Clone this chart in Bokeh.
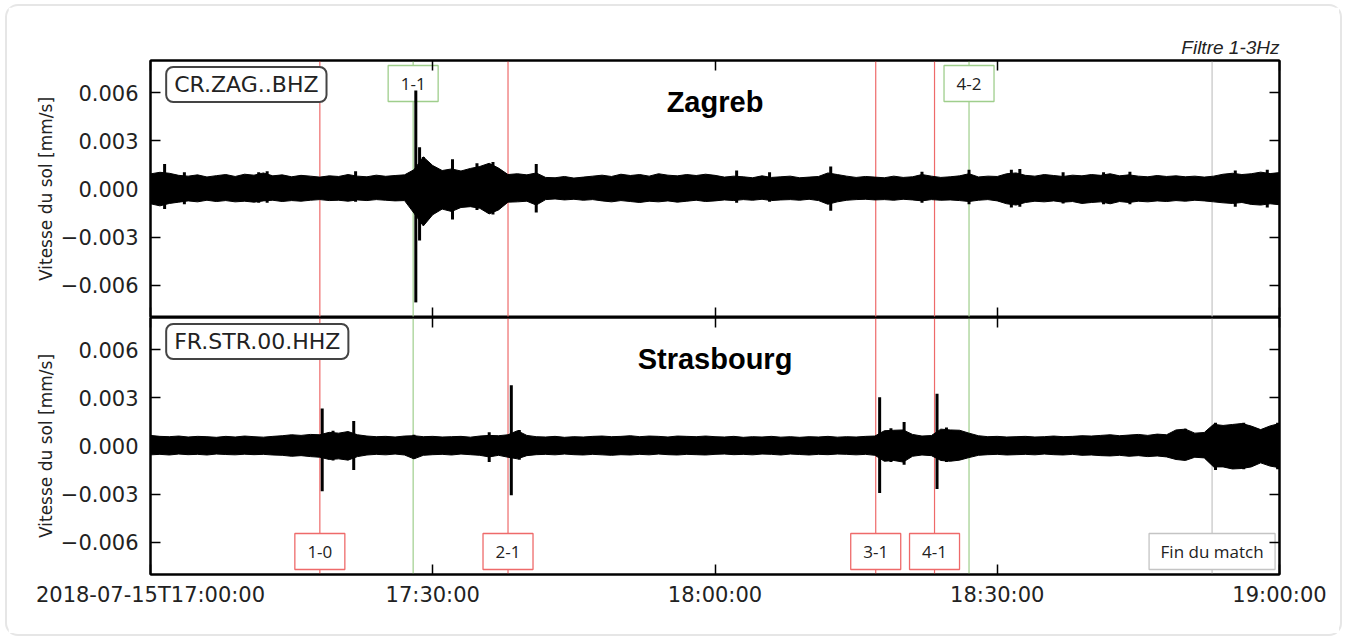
import pandas as pd
from bokeh.plotting import figure
from bokeh.layouts import column
from bokeh.models import (Span, Label, LinearAxis, DatetimeAxis, FixedTicker,
                          CustomJSTickFormatter, Range1d, ColumnDataSource)
from bokeh.core.properties import value
from bokeh.embed import file_html
from bokeh.resources import INLINE

# ---------------- data ----------------
DAY = "2018-07-15"
START = "17:00:00"
END = "19:00:00"

# envelope of the filtered trace, sampled every minute from 17:00 (units: 1e-3 mm/s)
minutes = list(range(121))

zag_upper = [0.94, 1.04, 0.98, 0.85, 0.80, 0.88, 0.75, 0.83, 0.90, 0.78,
             0.92, 0.86, 1.00, 0.82, 0.88, 0.76, 0.85, 0.80, 0.74, 0.82,
             0.78, 0.90, 0.80, 0.76, 0.86, 0.79, 0.84, 0.88, 1.20, 2.00,
             1.46, 1.15, 1.25, 1.12, 1.28, 1.40, 1.60, 1.30, 0.90, 0.95,
             0.88, 1.00, 0.72, 0.70, 0.78, 0.68, 0.74, 0.80, 0.86, 0.78,
             0.92, 0.84, 0.90, 0.80, 0.95, 0.86, 0.82, 0.90, 0.84, 0.92,
             0.85, 0.74, 0.80, 0.76, 0.70, 0.82, 0.72, 0.76, 0.80, 0.70,
             0.74, 0.78, 1.00, 0.90, 0.80, 0.72, 0.78, 0.74, 0.70, 0.80,
             0.72, 0.76, 0.90, 0.80, 0.72, 0.76, 0.82, 0.95, 0.75, 0.80,
             0.78, 0.95, 1.00, 0.85, 0.80, 0.90, 0.84, 0.78, 0.86, 0.82,
             0.90, 0.85, 0.95, 0.82, 0.88, 0.80, 0.76, 0.84, 0.78, 0.82,
             0.76, 0.80, 0.74, 0.80, 0.92, 0.98, 0.90, 0.95, 1.05, 0.96,
             1.02]
zag_lower = [-0.92, -1.05, -0.90, -0.82, -0.74, -0.80, -0.70, -0.78, -0.72, -0.80,
             -0.76, -0.82, -0.74, -0.70, -0.78, -0.72, -0.76, -0.70, -0.66, -0.72,
             -0.70, -0.76, -0.68, -0.72, -0.66, -0.70, -0.74, -0.72, -1.50, -2.30,
             -1.60, -1.25, -1.40, -1.15, -1.10, -1.20, -1.55, -1.30, -0.82, -0.80,
             -0.76, -1.00, -0.66, -0.62, -0.68, -0.64, -0.70, -0.66, -0.74, -0.80,
             -0.72, -0.78, -0.84, -0.76, -0.80, -0.74, -0.82, -0.76, -0.70, -0.78,
             -0.74, -0.68, -0.72, -0.66, -0.70, -0.64, -0.72, -0.68, -0.66, -0.70,
             -0.64, -0.72, -0.95, -0.80, -0.70, -0.66, -0.64, -0.68, -0.66, -0.70,
             -0.64, -0.68, -0.74, -0.66, -0.70, -0.68, -0.72, -0.78, -0.70, -0.66,
             -0.74, -0.92, -1.00, -0.84, -0.76, -0.80, -0.74, -0.82, -0.78, -0.90,
             -0.84, -0.80, -0.92, -0.78, -0.84, -0.76, -0.80, -0.74, -0.78, -0.72,
             -0.76, -0.70, -0.74, -0.80, -0.86, -0.90, -0.84, -0.96, -1.00, -0.92,
             -0.98]

str_upper = [0.66, 0.60, 0.58, 0.62, 0.56, 0.60, 0.58, 0.54, 0.60, 0.56,
             0.62, 0.58, 0.55, 0.60, 0.64, 0.70, 0.66, 0.72, 0.70, 0.85,
             0.80, 0.90, 0.70, 0.62, 0.58, 0.60, 0.56, 0.62, 0.64, 0.58,
             0.60, 0.56, 0.58, 0.60, 0.55, 0.62, 0.66, 0.64, 0.70, 0.95,
             0.66, 0.58, 0.56, 0.60, 0.54, 0.58, 0.56, 0.60, 0.62, 0.58,
             0.60, 0.64, 0.58, 0.62, 0.60, 0.56, 0.62, 0.60, 0.58, 0.62,
             0.58, 0.56, 0.60, 0.54, 0.58, 0.56, 0.60, 0.55, 0.58, 0.54,
             0.58, 0.56, 0.60, 0.55, 0.58, 0.56, 0.60, 0.62, 0.95, 0.98,
             1.00, 0.72, 0.62, 0.65, 1.05, 1.00, 0.98, 0.80, 0.64, 0.58,
             0.60, 0.56, 0.58, 0.60, 0.56, 0.58, 0.62, 0.58, 0.60, 0.64,
             0.62, 0.66, 0.70, 0.64, 0.68, 0.72, 0.66, 0.74, 0.70, 1.00,
             1.05, 0.80, 0.84, 1.35, 1.28, 1.34, 1.40, 1.24, 1.02, 1.25,
             1.40]
str_lower = [-0.55, -0.52, -0.56, -0.50, -0.54, -0.52, -0.56, -0.50, -0.53, -0.55,
             -0.51, -0.54, -0.52, -0.56, -0.58, -0.64, -0.60, -0.66, -0.70, -0.84,
             -0.80, -0.88, -0.66, -0.56, -0.52, -0.55, -0.50, -0.56, -0.80, -0.58,
             -0.54, -0.52, -0.56, -0.50, -0.54, -0.58, -0.68, -0.58, -0.70, -0.80,
             -0.60, -0.54, -0.52, -0.55, -0.50, -0.54, -0.56, -0.52, -0.55, -0.58,
             -0.54, -0.56, -0.52, -0.55, -0.50, -0.54, -0.56, -0.52, -0.54, -0.56,
             -0.52, -0.50, -0.54, -0.52, -0.55, -0.50, -0.52, -0.56, -0.50, -0.53,
             -0.56, -0.52, -0.54, -0.50, -0.52, -0.55, -0.52, -0.58, -0.95, -0.90,
             -1.00, -0.64, -0.56, -0.60, -0.90, -0.95, -0.88, -0.72, -0.58, -0.54,
             -0.52, -0.56, -0.54, -0.52, -0.55, -0.50, -0.54, -0.56, -0.52, -0.58,
             -0.56, -0.60, -0.62, -0.58, -0.64, -0.60, -0.66, -0.62, -0.68, -0.84,
             -0.90, -0.70, -0.74, -1.30, -1.30, -1.43, -1.40, -1.30, -1.05, -1.25,
             -1.35]

# isolated peaks (minute after 17:00, max, min ; units 1e-3 mm/s)
zag_spike_min = [1.5, 3.6, 11.5, 12.4, 21.8, 28.2, 28.6, 29.0, 32.1, 34.7, 36.4,
                 41.0, 62.3, 65.8, 72.3, 82.0, 87.0, 91.5, 92.4, 97.0, 101.3,
                 104.1, 115.3, 118.7]
zag_spike_hi = [1.56, 1.05, 1.05, 1.10, 1.10, 6.14, 2.60, 2.00, 1.85, 1.60, 1.68,
                1.56, 1.15, 1.05, 1.40, 1.08, 1.20, 1.20, 1.25, 1.05, 1.05,
                1.08, 1.15, 1.20]
zag_spike_lo = [-1.25, -0.95, -0.85, -0.85, -0.80, -7.06, -3.20, -2.20, -1.90, -1.30, -1.58,
                -1.46, -0.85, -0.80, -1.35, -0.85, -0.95, -1.15, -1.10, -0.90, -0.95,
                -0.95, -1.10, -1.15]

str_spike_min = [18.25, 19.4, 21.6, 28.0, 36.0, 38.35, 39.2, 77.5, 78.7, 80.1, 83.6,
                 84.6, 110.0, 113.2, 116.2, 119.8]
str_spike_hi = [2.34, 0.95, 1.55, 0.70, 0.85, 3.78, 1.00, 3.03, 1.10, 1.49, 3.26,
                1.15, 1.07, 1.45, 1.45, 1.45]
str_spike_lo = [-2.82, -0.90, -1.50, -0.80, -1.00, -3.07, -0.85, -2.93, -1.00, -1.16, -2.68,
                -1.00, -0.84, -1.50, -1.45, -1.45]

# match events
goal_scores = ["1-0", "1-1", "2-1", "3-1", "4-1", "4-2"]
goal_times = ["17:18:00", "17:27:55", "17:38:00", "18:17:05", "18:23:20", "18:27:00"]
goal_team = ["FRA", "CRO", "FRA", "FRA", "FRA", "CRO"]
end_time = "18:52:50"
end_text = "Fin du match"

stations = ["CR.ZAG..BHZ", "FR.STR.00.HHZ"]
cities = ["Zagreb", "Strasbourg"]
filter_note = "Filtre 1-3Hz"
y_label = "Vitesse du sol [mm/s]"

x_tick_times = ["17:00:00", "17:30:00", "18:00:00", "18:30:00", "19:00:00"]
x_tick_labels = ["2018-07-15T17:00:00", "17:30:00", "18:00:00", "18:30:00", "19:00:00"]
y_ticks = [-0.006, -0.003, 0.0, 0.003, 0.006]
y_tick_labels = ["\u22120.006", "\u22120.003", "0.000", "0.003", "0.006"]
Y_MIN, Y_MAX = -0.008, 0.008

# ---------------- helpers ----------------
def ts(hms):
    return pd.Timestamp(f"{DAY} {hms}")

def ms(hms):
    return ts(hms).value // 10**6

T0 = ts(START)
def times_from_minutes(mins):
    return [T0 + pd.Timedelta(minutes=m) for m in mins]

SCALE = 1e-3  # amplitudes listed in 1e-3 mm/s
x_tick_ms = [ms(t) for t in x_tick_times]
x_range = Range1d(ts(START), ts(END))

RED = "#ee6a6a"
GREEN = "#9fce8c"
GRAY = "#c4c4c4"
TICK_FONT = "DejaVu Sans"
BOX_FONT = value("Open Sans")
PX = (Y_MAX - Y_MIN) / 257.0   # data units per pixel of panel height
BOX_H = 36

def style_axis(ax, labels):
    ax.major_tick_in = 10
    ax.major_tick_out = 0
    ax.minor_tick_in = 0
    ax.minor_tick_out = 0
    ax.major_tick_line_width = 1.5
    ax.major_tick_line_color = "black"
    ax.axis_line_color = "black"
    ax.axis_line_width = 2
    ax.major_label_text_font = TICK_FONT
    ax.major_label_text_font_size = "21px"
    if labels:
        ax.major_label_text_color = "#222222"
    else:
        ax.major_label_text_color = None
        ax.major_label_standoff = 0

def lookup_formatter(tv, tl):
    return CustomJSTickFormatter(args=dict(tv=tv, tl=tl), code="""
        let b = 0;
        for (let i = 1; i < tv.length; i++) {
            if (Math.abs(tv[i] - tick) < Math.abs(tv[b] - tick)) b = i;
        }
        return tl[b];
    """)

def add_boxes(p, xs, texts, colors, widths, yc):
    src = ColumnDataSource(dict(x=xs, t=texts, c=colors, w=widths, y=[yc] * len(xs)))
    p.rect(x="x", y="y", width="w", height=BOX_H, width_units="screen",
           height_units="screen", source=src, fill_color="white",
           line_color="c", line_width=1.3)
    p.text(x="x", y="y", text="t", source=src, text_align="center",
           text_baseline="middle", text_font=BOX_FONT, text_font_size="17px",
           text_color="#222222")

def make_panel(idx, upper, lower, spk_min, spk_hi, spk_lo, is_top, box_spec):
    p = figure(width=1331, height=310 if is_top else 316,
               x_axis_type="datetime", x_range=x_range,
               y_range=Range1d(Y_MIN, Y_MAX),
               toolbar_location=None, output_backend="svg",
               min_border_left=142, min_border_right=60,
               min_border_top=53 if is_top else 0,
               min_border_bottom=0 if is_top else 59)
    p.xgrid.visible = False
    p.ygrid.visible = False
    p.outline_line_color = "black"
    p.outline_line_width = 2
    p.background_fill_color = "white"
    p.border_fill_color = "white"

    # axes
    bx = p.below[0]
    bx.ticker = FixedTicker(ticks=x_tick_ms)
    bx.formatter = lookup_formatter(x_tick_ms, x_tick_labels)
    style_axis(bx, not is_top)
    if not is_top:
        bx.major_label_standoff = 8

    ly = p.left[0]
    ly.ticker = FixedTicker(ticks=y_ticks)
    ly.formatter = lookup_formatter(y_ticks, y_tick_labels)
    style_axis(ly, True)
    ly.major_label_standoff = 12
    ly.axis_label = y_label
    ly.axis_label_text_font = TICK_FONT
    ly.axis_label_text_font_size = "17px"
    ly.axis_label_text_font_style = "normal"
    ly.axis_label_text_color = "#222222"
    ly.axis_label_standoff = 2

    ax_top = DatetimeAxis(ticker=FixedTicker(ticks=x_tick_ms),
                          formatter=lookup_formatter(x_tick_ms, x_tick_labels))
    style_axis(ax_top, False)
    p.add_layout(ax_top, "above")
    ax_r = LinearAxis(ticker=FixedTicker(ticks=y_ticks),
                      formatter=lookup_formatter(y_ticks, y_tick_labels))
    style_axis(ax_r, False)
    p.add_layout(ax_r, "right")

    # event lines (under everything)
    for t, team in zip(goal_times, goal_team):
        p.add_layout(Span(location=ms(t), dimension="height", level="underlay",
                          line_color=RED if team == "FRA" else GREEN, line_width=1.2))
    p.add_layout(Span(location=ms(end_time), dimension="height", level="underlay",
                      line_color=GRAY, line_width=1.2))

    # event boxes (below the trace)
    add_boxes(p, *box_spec)

    # trace
    src = ColumnDataSource(dict(t=times_from_minutes(minutes),
                                up=[v * SCALE for v in upper],
                                lo=[v * SCALE for v in lower]))
    p.varea(x="t", y1="lo", y2="up", source=src, fill_color="black")
    p.line(x="t", y="up", source=src, line_color="black", line_width=1)
    p.line(x="t", y="lo", source=src, line_color="black", line_width=1)
    ssrc = ColumnDataSource(dict(t=times_from_minutes(spk_min),
                                 hi=[v * SCALE for v in spk_hi],
                                 lo=[v * SCALE for v in spk_lo]))
    p.segment(x0="t", y0="lo", x1="t", y1="hi", source=ssrc,
              line_color="black", line_width=3)

    # station box
    p.add_layout(Label(x=ms("17:01:40"), y=Y_MAX - 6.5 * PX, text=stations[idx],
                       anchor="top_left", text_font=TICK_FONT, text_font_size="22px",
                       text_color="#222222", background_fill_color="white",
                       border_line_color="#444444", border_line_width=2, border_radius=7,
                       padding=dict(left=8, right=8, top=5, bottom=5)))
    # city title
    p.add_layout(Label(x=ms("18:00:00"), y=0.0054, text=cities[idx],
                       text_align="center", text_baseline="alphabetic",
                       text_font="Liberation Sans", text_font_style="bold",
                       text_font_size="29px", text_color="black"))
    return p

# event boxes: Croatian goals on the Zagreb panel (top), French goals + end on Strasbourg
cro = [(ms(t), s) for s, t, tm in zip(goal_scores, goal_times, goal_team) if tm == "CRO"]
fra = [(ms(t), s) for s, t, tm in zip(goal_scores, goal_times, goal_team) if tm == "FRA"]
top_boxes = ([c[0] for c in cro], [c[1] for c in cro], [GREEN] * len(cro),
             [50] * len(cro), Y_MAX - (5 + BOX_H / 2) * PX)
bot_boxes = ([f[0] for f in fra] + [ms(end_time)], [f[1] for f in fra] + [end_text],
             [RED] * len(fra) + [GRAY], [50] * len(fra) + [126],
             Y_MIN + (5 + BOX_H / 2) * PX)

p_top = make_panel(0, zag_upper, zag_lower, zag_spike_min, zag_spike_hi, zag_spike_lo,
                   True, top_boxes)
p_bot = make_panel(1, str_upper, str_lower, str_spike_min, str_spike_hi, str_spike_lo,
                   False, bot_boxes)

p_top.title.text = filter_note
p_top.title.align = "right"
p_top.title.text_font = "Liberation Sans"
p_top.title.text_font_style = "italic"
p_top.title.text_font_size = "19px"
p_top.title.text_color = "#222222"
p_top.title.standoff = 6

root = column(p_top, p_bot, width=1331, height=626, margin=(7, 0, 0, 8),
              styles={"outline": "2px solid #e6e6e6", "outline-offset": "1px",
                      "border-radius": "10px", "background": "white"})

open("out.html", "w").write(file_html(root, INLINE))
